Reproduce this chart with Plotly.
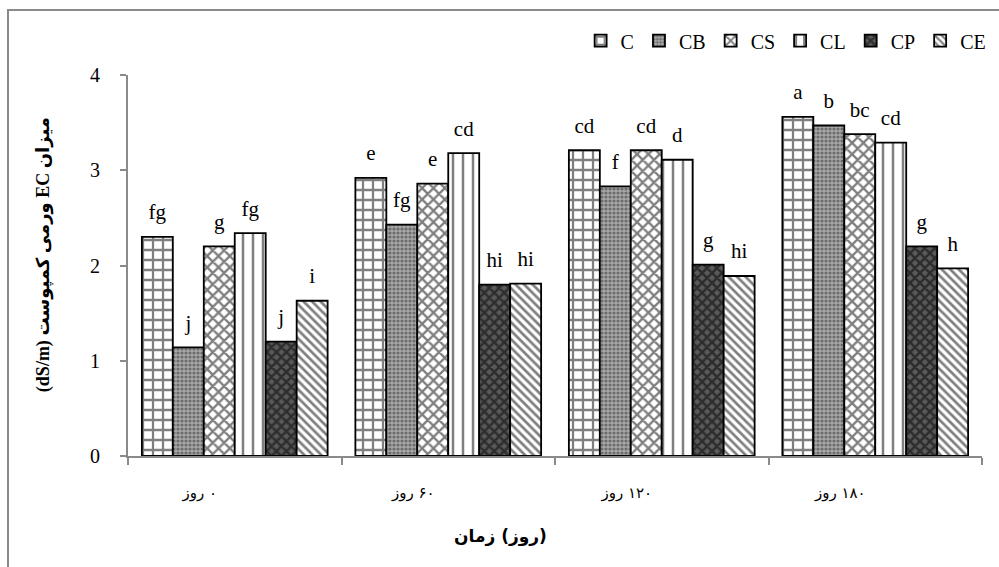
import plotly.graph_objects as go

# Composting time (days). The LRMs keep the word on the left and the number on the right.
days = ["\u200eروز\u200e ۰", "\u200eروز\u200e ۶۰", "\u200eروز\u200e ۱۲۰", "\u200eروز\u200e ۱۸۰"]

treatments = ["C", "CB", "CS", "CL", "CP", "CE"]

# EC of vermicompost (dS/m) per treatment over time
ec_C = [2.30, 2.92, 3.21, 3.56]
ec_CB = [1.14, 2.43, 2.83, 3.47]
ec_CS = [2.20, 2.86, 3.21, 3.38]
ec_CL = [2.34, 3.18, 3.11, 3.29]
ec_CP = [1.20, 1.80, 2.01, 2.20]
ec_CE = [1.63, 1.81, 1.89, 1.97]

# Mean-separation letters
let_C = ["fg", "e", "cd", "a"]
let_CB = ["j", "fg", "f", "b"]
let_CS = ["g", "e", "cd", "bc"]
let_CL = ["fg", "cd", "d", "cd"]
let_CP = ["j", "hi", "g", "g"]
let_CE = ["i", "hi", "hi", "h"]

values = [ec_C, ec_CB, ec_CS, ec_CL, ec_CP, ec_CE]
letters = [let_C, let_CB, let_CS, let_CL, let_CP, let_CE]

# Monochrome fill patterns, one per treatment
patterns = [
    dict(shape="+", fgcolor="black", bgcolor="white", size=10, solidity=0.4),
    dict(shape=".", fgcolor="#2e2e2e", bgcolor="#a8a8a8", size=4, solidity=0.5),
    dict(shape="x", fgcolor="black", bgcolor="white", size=8, solidity=0.5),
    dict(shape="|", fgcolor="black", bgcolor="white", size=10, solidity=0.25),
    dict(shape="x", fgcolor="black", bgcolor="#5a5a5a", size=7, solidity=0.6),
    dict(shape="\\", fgcolor="black", bgcolor="white", size=6, solidity=0.45),
]

serif = "Liberation Serif, Times New Roman, serif"
persian = "DejaVu Sans, Noto Sans, sans-serif"
axis_gray = "#8a8a8a"
BARGAP = 0.13

fig = go.Figure()
for name, vals, pat in zip(treatments, values, patterns):
    fig.add_trace(go.Bar(
        name=name, x=days, y=vals,
        marker=dict(color="white", pattern=pat,
                    line=dict(color="black", width=1.8)),
    ))

# Letters above the bars, grouped the same way as the bars
for name, vals, lets in zip(treatments, values, letters):
    fig.add_trace(go.Scatter(
        x=days, y=vals, text=lets, mode="markers+text",
        textposition="top center",
        textfont=dict(family=serif, size=21, color="black"),
        marker=dict(size=18, opacity=0),
        cliponaxis=False, showlegend=False, hoverinfo="skip",
    ))

fig.update_layout(
    width=999, height=567,
    margin=dict(l=128, r=17, t=75, b=111, autoexpand=False),
    paper_bgcolor="white", plot_bgcolor="white",
    barmode="group", bargap=BARGAP, bargroupgap=0,
    scattermode="group", scattergap=BARGAP,
    showlegend=True,
    legend=dict(orientation="h", x=0.53, xanchor="left", y=1.09, yanchor="middle",
                font=dict(family=serif, size=20, color="black"),
                bgcolor="rgba(0,0,0,0)", itemwidth=30),
    font=dict(family=serif, color="black"),
)

fig.update_xaxes(
    showline=True, linecolor=axis_gray, linewidth=2,
    ticks="outside", tickson="boundaries", ticklen=7, tickcolor=axis_gray, tickwidth=1.5,
    tickfont=dict(family=persian, size=15, color="black"),
    ticklabelstandoff=22, ticklabelshift=-35,
    showgrid=False,
)
fig.update_yaxes(
    range=[0, 4], dtick=1,
    showline=True, linecolor=axis_gray, linewidth=2,
    ticks="outside", ticklen=6, tickcolor=axis_gray, tickwidth=1.5,
    tickfont=dict(family=serif, size=20, color="black"),
    ticklabelstandoff=16,
    showgrid=False, zeroline=False,
)

# Axis titles (isolates keep the word order fixed)
fig.add_annotation(
    text="<b>\u2066زمان\u2069 \u2066(روز)\u2069</b>", xref="paper", yref="paper",
    x=0.4356, y=-0.21, xanchor="center", yanchor="middle", showarrow=False,
    font=dict(family=persian, size=17, color="black"),
)
fig.add_annotation(
    text="<b>(dS/m) ورمی کمپوست EC میزان</b>", xref="paper", yref="paper",
    x=-0.098, y=0.528, xanchor="center", yanchor="middle", textangle=-90,
    showarrow=False, font=dict(family=serif + ", " + persian, size=18, color="black"),
)

# Outer chart frame
fig.add_shape(type="rect", xref="paper", yref="paper",
              x0=-0.1405, x1=1.2, y0=-0.6, y1=1.1706,
              line=dict(color=axis_gray, width=2), fillcolor="rgba(0,0,0,0)",
              layer="below")

fig.write_html("out.html")
